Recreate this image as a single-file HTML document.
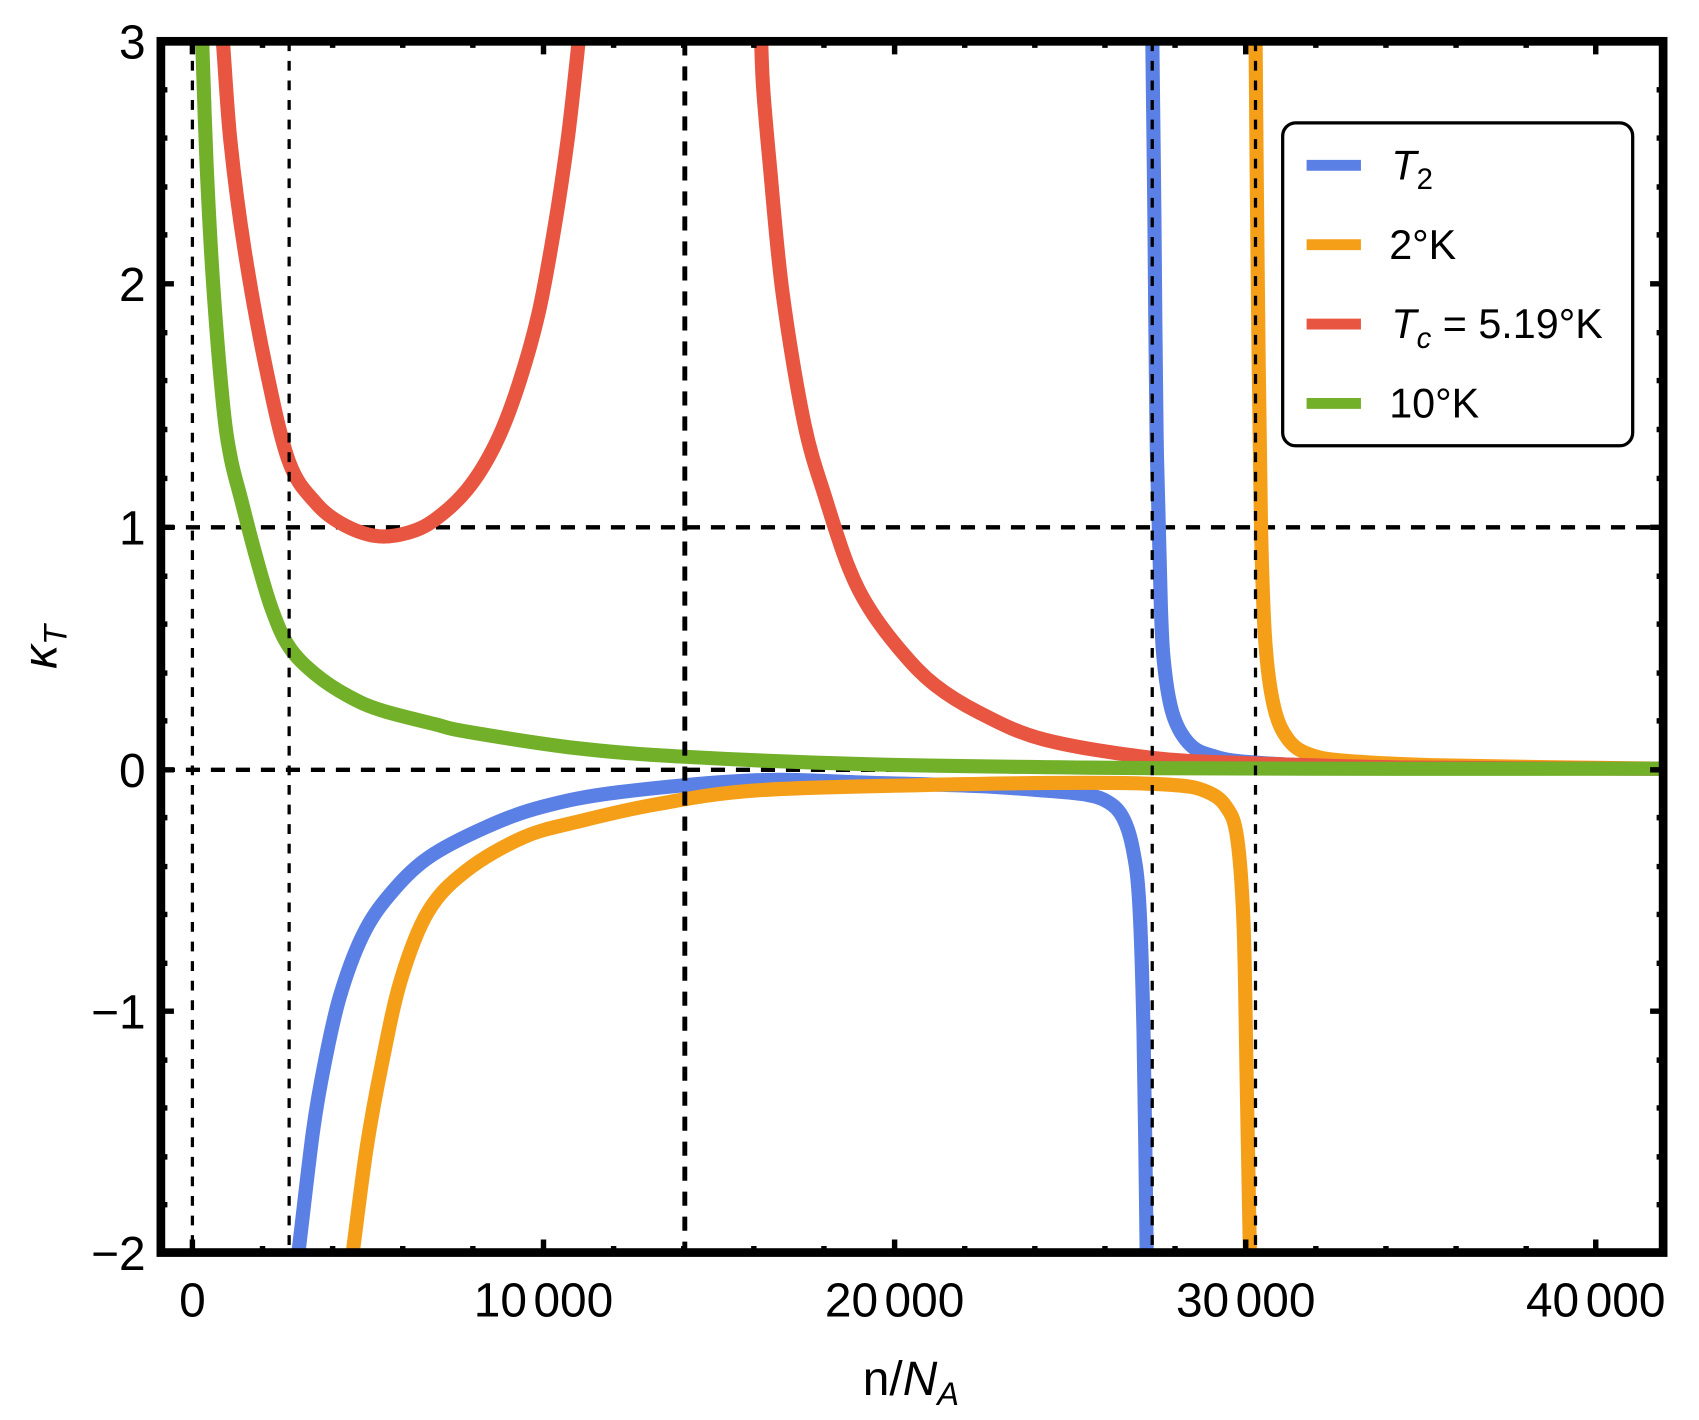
<!DOCTYPE html>
<html><head><meta charset="utf-8"><style>
html,body{margin:0;padding:0;background:#fff;}
svg{display:block;}
text{font-family:"Liberation Sans",sans-serif;fill:#000;}
</style></head><body>
<svg id="s" width="1699" height="1420" viewBox="0 0 1563 1306" preserveAspectRatio="none" xmlns="http://www.w3.org/2000/svg">
<defs><clipPath id="c"><rect x="148" y="38" width="1382" height="1114"/></clipPath></defs>
<rect width="1563" height="1306" fill="#fff"/>
<g stroke="#000" fill="none">
<line x1="148" y1="485" x2="1530" y2="485" stroke-width="4" stroke-dasharray="13,10"/>
<line x1="148" y1="708" x2="1530" y2="708" stroke-width="4" stroke-dasharray="13,10"/>
</g>
<g clip-path="url(#c)" fill="none" stroke-width="13" stroke-linejoin="round" stroke-linecap="butt">
<polyline class="sm" stroke="#5a7fe5" points="273,1160 275,1148 288,1040 298.6,978 312.8,916 333.8,860 358.4,823 393.7,789 446.5,761 499,742 569.5,728.6 696.5,717.6 800,720 900,723 960,727 1000,731 1020,738 1033,752 1042,780 1048,830 1052,950 1055,1160"/>
<polyline class="sm" stroke="#5a7fe5" points="1060,30 1062,200 1064,400 1068,560 1072,620 1080,660 1095,685 1115,695 1150,701 1250,705 1530,707"/>
<polyline class="sm" stroke="#f59f19" points="323,1160 325,1148 337.4,1055 351.4,978 369,900.5 393.8,838.5 428.7,801 481.7,770 534.5,755 605,739.5 696.5,726.9 850,722 1000,720 1080,722 1110,728 1128,742 1138,770 1144,850 1147,1000 1150,1160"/>
<polyline class="sm" stroke="#f59f19" points="1155,30 1157,250 1160,480 1164,590 1172,650 1185,680 1205,694 1240,700 1330,704 1530,707"/>
<polyline class="sm" stroke="#e85540" points="203,30 205,38 212,130 225,230 245,340 266,425 290,462 315,482 346,493 375,490 400,478 430,450 455,410 475,360 495,290 510,210 522,130 530,60 533,30"/>
<polyline class="sm" stroke="#e85540" points="700,30 702,80 708,150 720,270 740,390 760,460 780,520 800,560 830,600 860,630 900,655 960,680 1060,697 1150,702 1300,706 1530,707"/>
<polyline class="sm" stroke="#72b02a" points="185,30 186,38 190,150 196,260 205,370 212,420 222,460 235,510 250,560 266,595 290,620 320,640 350,653 400,666 430,673 530,688 630,696 800,703 1000,706 1200,707 1530,707"/>
</g>
<g stroke="#000" fill="none">
<line x1="177" y1="38" x2="177" y2="1152" stroke-width="3" stroke-dasharray="9,9"/>
<line x1="266" y1="38" x2="266" y2="1152" stroke-width="3" stroke-dasharray="9,9"/>
<line x1="630" y1="38" x2="630" y2="1152" stroke-width="4.5" stroke-dasharray="13,10"/>
<line x1="1060" y1="38" x2="1060" y2="1152" stroke-width="3" stroke-dasharray="9,9"/>
<line x1="1155" y1="38" x2="1155" y2="1152" stroke-width="3" stroke-dasharray="9,9"/>
</g>
<g stroke="#000" stroke-width="5">
<path d="M177 1152v-12M500 1152v-12M823 1152v-12M1146 1152v-12M1468 1152v-12M177 38v12M500 38v12M823 38v12M1146 38v12M1468 38v12"/>
<path d="M241.5 1152v-6M306 1152v-6M370.5 1152v-6M435 1152v-6M564.5 1152v-6M629 1152v-6M693.5 1152v-6M758 1152v-6M887.5 1152v-6M952 1152v-6M1016.5 1152v-6M1081 1152v-6M1210.5 1152v-6M1275 1152v-6M1339.5 1152v-6M1404 1152v-6M241.5 38v6M306 38v6M370.5 38v6M435 38v6M564.5 38v6M629 38v6M693.5 38v6M758 38v6M887.5 38v6M952 38v6M1016.5 38v6M1081 38v6M1210.5 38v6M1275 38v6M1339.5 38v6M1404 38v6"/>
<path d="M148 261h12M148 485h12M148 708h12M148 930h12M1530 261h-12M1530 485h-12M1530 708h-12M1530 930h-12"/>
<path d="M148 82.6h6M148 127h6M148 172h6M148 216h6M148 306h6M148 350h6M148 395h6M148 440h6M148 530h6M148 574h6M148 619h6M148 663h6M148 752h6M148 797h6M148 841h6M148 886h6M148 975h6M148 1019h6M148 1064h6M148 1108h6M1530 82.6h-6M1530 127h-6M1530 172h-6M1530 216h-6M1530 306h-6M1530 350h-6M1530 395h-6M1530 440h-6M1530 530h-6M1530 574h-6M1530 619h-6M1530 663h-6M1530 752h-6M1530 797h-6M1530 841h-6M1530 886h-6M1530 975h-6M1530 1019h-6M1530 1064h-6M1530 1108h-6"/>
</g>
<rect x="148" y="38" width="1382" height="1114" fill="none" stroke="#000" stroke-width="8"/>
<g font-size="44" text-anchor="end">
<text x="134" y="54">3</text>
<text x="134" y="277">2</text>
<text x="134" y="501">1</text>
<text x="134" y="724">0</text>
<text x="134" y="946">−1</text>
<text x="134" y="1168">−2</text>
</g>
<g font-size="44" text-anchor="middle">
<text x="177" y="1211">0</text>
<text x="500" y="1211">10<tspan dx="6">000</tspan></text>
<text x="823" y="1211">20<tspan dx="6">000</tspan></text>
<text x="1146" y="1211">30<tspan dx="6">000</tspan></text>
<text x="1468" y="1211">40<tspan dx="6">000</tspan></text>
<text x="838" y="1283" font-size="44">n/<tspan font-style="italic">N</tspan><tspan font-style="italic" font-size="30" dy="9">A</tspan></text>
</g>
<text transform="translate(52,595) rotate(-90)" font-size="44" text-anchor="middle" font-style="italic">κ<tspan font-size="30" dy="9">T</tspan></text>
<rect x="1180" y="113" width="322" height="297" rx="12" fill="#fff" stroke="#000" stroke-width="3"/>
<g stroke-width="10">
<line x1="1202" y1="152" x2="1252" y2="152" stroke="#5a7fe5"/>
<line x1="1202" y1="225" x2="1252" y2="225" stroke="#f59f19"/>
<line x1="1202" y1="298" x2="1252" y2="298" stroke="#e85540"/>
<line x1="1202" y1="371" x2="1252" y2="371" stroke="#72b02a"/>
</g>
<g font-size="38">
<text x="1280" y="165" font-style="italic">T<tspan font-style="normal" font-size="27" dy="9">2</tspan></text>
<text x="1278" y="238">2°K</text>
<text x="1280" y="311"><tspan font-style="italic">T</tspan><tspan font-style="italic" font-size="27" dy="9">c</tspan><tspan dy="-9"> = 5.19°K</tspan></text>
<text x="1278" y="384">10°K</text>
</g>
</svg>
<script>
document.querySelectorAll('polyline.sm').forEach(function(pl){
  var p=pl.getAttribute('points').trim().split(/\s+/).map(function(s){return s.split(',').map(Number);});
  var d='M'+p[0][0]+' '+p[0][1];
  for(var i=0;i<p.length-1;i++){
    var p0=p[i-1]||p[i],p1=p[i],p2=p[i+1],p3=p[i+2]||p2;
    var c1x=p1[0]+(p2[0]-p0[0])/6,c1y=p1[1]+(p2[1]-p0[1])/6;
    var c2x=p2[0]-(p3[0]-p1[0])/6,c2y=p2[1]-(p3[1]-p1[1])/6;
    d+=' C'+c1x+' '+c1y+' '+c2x+' '+c2y+' '+p2[0]+' '+p2[1];
  }
  var path=document.createElementNS('http://www.w3.org/2000/svg','path');
  path.setAttribute('d',d);path.setAttribute('stroke',pl.getAttribute('stroke'));
  pl.parentNode.replaceChild(path,pl);
});
</script>
</body></html>
